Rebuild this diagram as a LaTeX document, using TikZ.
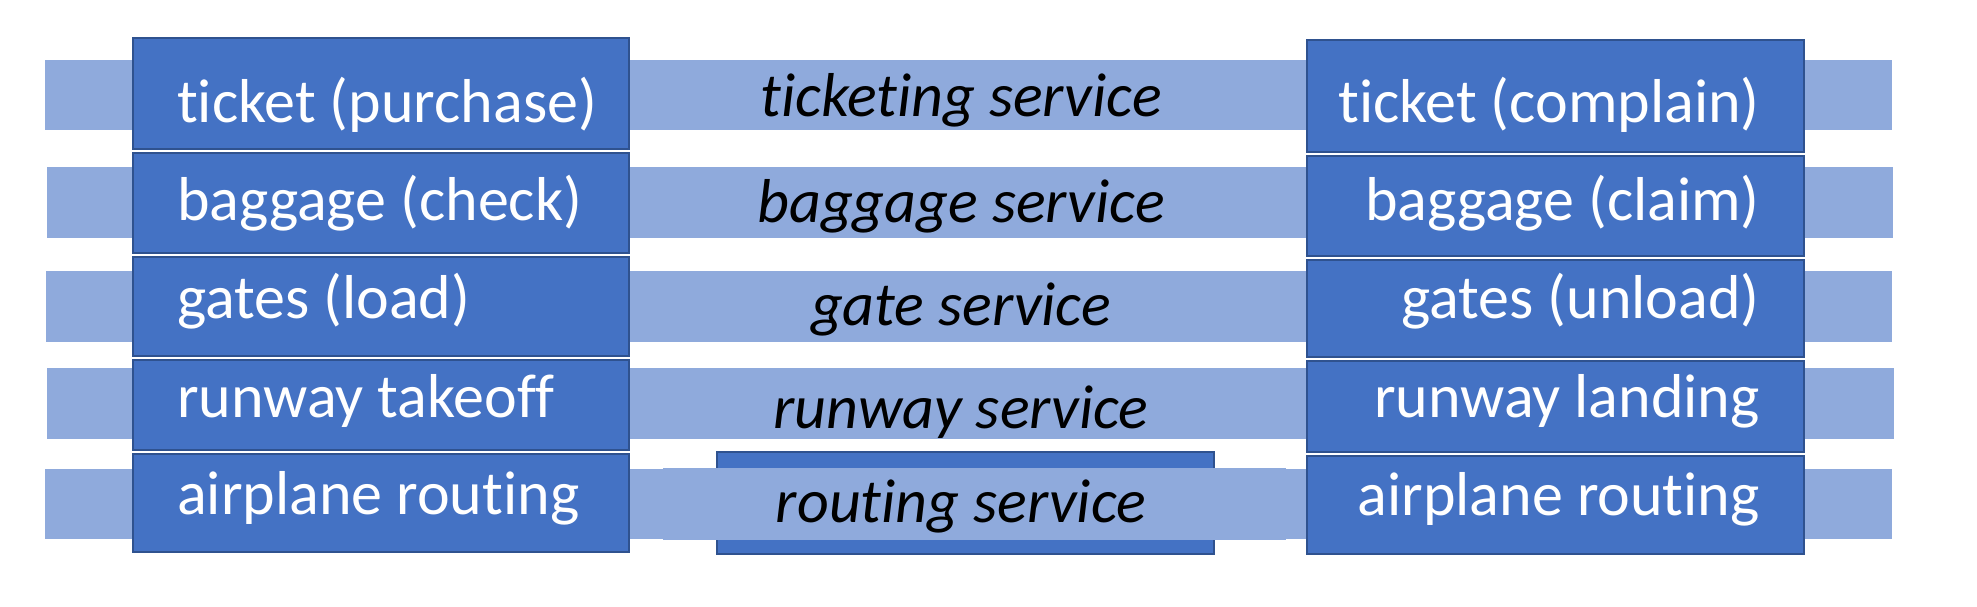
\documentclass[tikz,border=0pt]{standalone}
\usepackage{fontspec}
\setmainfont{Carlito}[Ligatures=NoCommon]
\definecolor{bandc}{HTML}{8FAADC}
\definecolor{cellc}{HTML}{4472C4}
\definecolor{edgec}{HTML}{2F528F}
\begin{document}
\begin{tikzpicture}[x=1pt,y=-1pt,
  box/.style={anchor=north west,inner sep=0pt,outer sep=0pt},
  bandbox/.style={box,fill=bandc},
  cellbox/.style={box,fill=cellc,draw=edgec,line width=1.6pt},
  txt/.style={inner sep=0pt,font=\fontsize{62}{74}\selectfont},
  wtxt/.style={txt,text=white},
  itxt/.style={txt,text=black,font=\fontsize{62}{74}\selectfont\itshape,anchor=base}]
\useasboundingbox (0,0) rectangle (1977,607);
% bands
\node[bandbox,minimum width=1847pt,minimum height=70pt] (b1) at (45,60) {};
\node[bandbox,minimum width=1846pt,minimum height=71pt] (b2) at (47,167) {};
\node[bandbox,minimum width=1846pt,minimum height=71pt] (b3) at (46,271) {};
\node[bandbox,minimum width=1847pt,minimum height=71pt] (b4) at (47,368) {};
\node[bandbox,minimum width=1847pt,minimum height=70pt] (b5) at (45,469) {};
% left stack
\node[cellbox,minimum width=496pt,minimum height=111pt] (l1) at (133,38) {};
\node[cellbox,minimum width=496pt,minimum height=100pt] (l2) at (133,153) {};
\node[cellbox,minimum width=496pt,minimum height=99pt] (l3) at (133,257) {};
\node[cellbox,minimum width=496pt,minimum height=90pt] (l4) at (133,360) {};
\node[cellbox,minimum width=496pt,minimum height=98pt] (l5) at (133,454) {};
% right stack
\node[cellbox,minimum width=497pt,minimum height=112pt] (r1) at (1307,40) {};
\node[cellbox,minimum width=497pt,minimum height=100pt] (r2) at (1307,156) {};
\node[cellbox,minimum width=497pt,minimum height=97pt] (r3) at (1307,260) {};
\node[cellbox,minimum width=497pt,minimum height=91pt] (r4) at (1307,361) {};
\node[cellbox,minimum width=497pt,minimum height=98pt] (r5) at (1307,456) {};
% routing box
\node[cellbox,minimum width=497pt,minimum height=102pt] (m5) at (717,452) {};
\node[bandbox,minimum width=623pt,minimum height=72pt] (m5b) at (663,468) {};
% left texts
\node[wtxt,anchor=base west] (tl1) at (177,122) {ticket (purchase)};
\node[wtxt,anchor=base west] (tl2) at (177,220) {baggage (check)};
\node[wtxt,anchor=base west] (tl3) at (177,318) {gates (load)};
\node[wtxt,anchor=base west] (tl4) at (177,417) {runway takeoff};
\node[wtxt,anchor=base west] (tl5) at (177,514) {airplane routing};
% middle texts
\node[itxt] (tm1) at (961,117) {ticketing service};
\node[itxt] (tm2) at (961,222) {baggage service};
\node[itxt] (tm3) at (961,325) {gate service};
\node[itxt] (tm4) at (961,428) {runway service};
\node[itxt] (tm5) at (961,522) {routing service};
% right texts
\node[wtxt,anchor=base east] (tr1) at (1760,123) {ticket (complain)};
\node[wtxt,anchor=base east] (tr2) at (1760,220) {baggage (claim)};
\node[wtxt,anchor=base east] (tr3) at (1760,318) {gates (unload)};
\node[wtxt,anchor=base east] (tr4) at (1760,417) {runway landing};
\node[wtxt,anchor=base east] (tr5) at (1760,515) {airplane routing};
\end{tikzpicture}
\end{document}
